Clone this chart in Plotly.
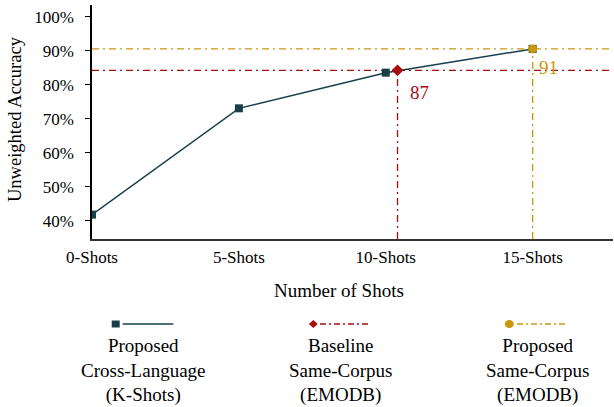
import plotly.graph_objects as go

# ---------------- data ----------------
categories = ["0-Shots", "5-Shots", "10-Shots", "15-Shots"]
cat_pos = [0, 1, 2, 3]
cross_lang = [0.418, 0.731, 0.836, 0.906]

baseline_x = [2.08]
baseline_y = [0.843]
baseline_label = "87"

proposed_same_x = [3.0]
proposed_same_y = [0.906]
proposed_same_label = "91"

y_ticks = [0.4, 0.5, 0.6, 0.7, 0.8, 0.9, 1.0]
legend_names = [
    "Proposed<br>Cross-Language<br>(K-Shots)",
    "Baseline<br>Same-Corpus<br>(EMODB)",
    "Proposed<br>Same-Corpus<br>(EMODB)",
]

# ---------------- style ----------------
W, H = 614, 407
ML, MR, MT, MB = 92, 1, 5, 168
TEAL = "#173F4A"
RED = "#A80D12"
GOLD = "#C9970E"
FONT = "Liberation Serif"
XR = [0, 3.547]
YR = [0.3461, 1.0353]
DASH = "7px,4px,2px,4px"

pw = W - ML - MR
ph = H - MT - MB


def px(x):
    return (x - ML) / pw


def py(y):
    return (H - MB - y) / ph


fig = go.Figure()

fig.add_trace(go.Scatter(
    x=cat_pos, y=cross_lang, mode="lines+markers",
    line=dict(color=TEAL, width=1.5),
    marker=dict(symbol="square", size=8, color=TEAL),
    showlegend=False, hoverinfo="skip"))
fig.add_trace(go.Scatter(
    x=baseline_x, y=baseline_y, mode="markers",
    marker=dict(symbol="diamond", size=9, color=RED),
    showlegend=False, hoverinfo="skip"))
fig.add_trace(go.Scatter(
    x=proposed_same_x, y=proposed_same_y, mode="markers",
    marker=dict(symbol="circle", size=9, color=GOLD),
    showlegend=False, hoverinfo="skip"))

shapes = []
for xs, ys, col in [(baseline_x, baseline_y, RED), (proposed_same_x, proposed_same_y, GOLD)]:
    shapes.append(dict(type="line", xref="paper", yref="y", x0=0, x1=1,
                       y0=ys[0], y1=ys[0], layer="below",
                       line=dict(color=col, width=1.3, dash=DASH)))
    shapes.append(dict(type="line", xref="x", yref="y", x0=xs[0], x1=xs[0],
                       y0=YR[0], y1=ys[0], layer="below",
                       line=dict(color=col, width=1.3, dash=DASH)))

# legend samples (paper coordinates)
leg_y = 324
leg_entries = [
    (115.7, 122.7, 173.3, TEAL, "solid", "square"),
    (313.3, 320.0, 370.0, RED, "6px,3px,2px,3px", "diamond"),
    (509.3, 517.0, 566.7, GOLD, "6px,3px,2px,3px", "circle"),
]
for mx, l0, l1, col, dash, sym in leg_entries:
    shapes.append(dict(type="line", xref="paper", yref="paper",
                       x0=px(l0), x1=px(l1), y0=py(leg_y), y1=py(leg_y),
                       line=dict(color=col, width=1.5, dash=dash)))
    if sym == "square":
        shapes.append(dict(type="rect", xref="paper", yref="paper",
                           x0=px(mx - 4), x1=px(mx + 4), y0=py(leg_y + 3.5), y1=py(leg_y - 3.5),
                           fillcolor=col, line=dict(width=0)))
    elif sym == "circle":
        shapes.append(dict(type="circle", xref="paper", yref="paper",
                           x0=px(mx - 4.5), x1=px(mx + 4.5), y0=py(leg_y + 4), y1=py(leg_y - 4),
                           fillcolor=col, line=dict(width=0)))
    else:
        path = "M {} {} L {} {} L {} {} L {} {} Z".format(
            px(mx - 4.5), py(leg_y), px(mx), py(leg_y - 4),
            px(mx + 4.5), py(leg_y), px(mx), py(leg_y + 4))
        shapes.append(dict(type="path", xref="paper", yref="paper", path=path,
                           fillcolor=col, line=dict(width=0)))

annotations = [
    dict(x=baseline_x[0], y=baseline_y[0], xref="x", yref="y", text=baseline_label,
         showarrow=False, xshift=22, yshift=-22, xanchor="center", yanchor="middle",
         font=dict(family=FONT, size=19, color=RED)),
    dict(x=proposed_same_x[0], y=proposed_same_y[0], xref="x", yref="y", text=proposed_same_label,
         showarrow=False, xshift=16, yshift=-19, xanchor="center", yanchor="middle",
         font=dict(family=FONT, size=19, color=GOLD)),
    dict(x=px(339), y=py(290), xref="paper", yref="paper", text="Number of Shots",
         showarrow=False, xanchor="center", yanchor="middle",
         font=dict(family=FONT, size=19, color="black")),
    dict(x=px(15), y=py(119), xref="paper", yref="paper", text="Unweighted Accuracy",
         showarrow=False, textangle=-90, xanchor="center", yanchor="middle",
         font=dict(family=FONT, size=18.5, color="black")),
]
for cx, name in zip([143, 340, 537], legend_names):
    annotations.append(dict(x=px(cx), y=py(370), xref="paper", yref="paper", text=name,
                            showarrow=False, align="center", xanchor="center", yanchor="middle",
                            font=dict(family=FONT, size=19, color="black")))

fig.update_layout(
    width=W, height=H,
    margin=dict(l=ML, r=MR, t=MT, b=MB, pad=0),
    paper_bgcolor="white", plot_bgcolor="white",
    showlegend=False,
    shapes=shapes, annotations=annotations,
    font=dict(family=FONT, size=17, color="black"),
    xaxis=dict(range=XR, tickmode="array", tickvals=cat_pos, ticktext=categories,
               showgrid=False, zeroline=False, showline=True, linecolor="#333333",
               linewidth=1.5, ticks="", ticklabelstandoff=2,
               tickfont=dict(family=FONT, size=17, color="black")),
    yaxis=dict(range=YR, tickmode="array", tickvals=y_ticks, tickformat=".0%",
               showgrid=False, zeroline=False, showline=True, linecolor="black",
               linewidth=1.5, ticks="outside", ticklen=5, tickcolor="black",
               ticklabelstandoff=8,
               tickfont=dict(family=FONT, size=17, color="black")),
)

fig.write_html("out.html", config={"displayModeBar": False},
               post_script="document.body.style.margin='0';")
